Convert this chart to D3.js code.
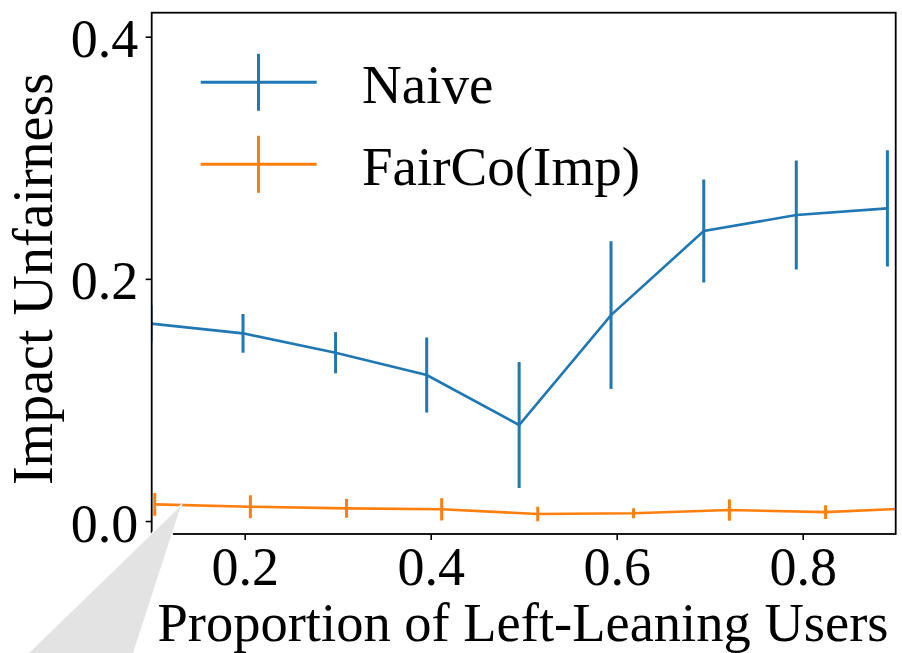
<!DOCTYPE html>
<html><head><meta charset="utf-8">
<script src="https://cdn.jsdelivr.net/npm/d3@7"></script>
<style>body{margin:0;background:#fff}svg{display:block}</style>
</head><body>
<svg id="chart" width="902" height="653"></svg>
<script>
// ---- data ----
const naiveX   = [0.0992, 0.1982, 0.2977, 0.3957, 0.4951, 0.5939, 0.6936, 0.7931, 0.8911];
const naiveY   = [0.163, 0.155, 0.139, 0.1206, 0.0793, 0.1701, 0.2395, 0.2527, 0.2582];
const naiveErr = [0.015, 0.016, 0.017, 0.031, 0.052, 0.061, 0.0425, 0.045, 0.048];
const fairX    = [0.1033, 0.2061, 0.3095, 0.4118, 0.5151, 0.6181, 0.7212, 0.8246, 0.9277];
const fairY    = [0.0138, 0.0118, 0.0105, 0.0097, 0.0058, 0.0064, 0.0091, 0.0074, 0.0108];
const fairErr  = [0.0094, 0.0095, 0.0078, 0.0092, 0.006, 0.0041, 0.0088, 0.0057, 0.006];
const xTicks = [0.2, 0.4, 0.6, 0.8];
const yTicks = [0.0, 0.2, 0.4];
const seriesNames = ["Naive", "FairCo(Imp)"];
const colors = ["#1f77b4", "#ff7f0e"];

const svg = d3.select("#chart");
const L = 151.7, R = 895.7, T = 12.7, B = 534;
const x = d3.scaleLinear().domain([0.1, 0.9]).range([L, R]);
const y = d3.scaleLinear().domain([-0.0107, 0.4198]).range([B, T]);
const font = "'Liberation Serif', 'Times New Roman', serif";

svg.append("defs").append("clipPath").attr("id", "clip")
  .append("rect").attr("x", L).attr("y", T).attr("width", R - L).attr("height", B - T);

const plot = svg.append("g").attr("clip-path", "url(#clip)");
const series = [
  {xs: naiveX, ys: naiveY, es: naiveErr, c: colors[0]},
  {xs: fairX, ys: fairY, es: fairErr, c: colors[1]}
];
series.forEach(s => {
  const pts = s.xs.map((v, i) => [v, s.ys[i], s.es[i]]);
  plot.append("path").datum(pts)
    .attr("fill", "none").attr("stroke", s.c).attr("stroke-width", 2.6)
    .attr("d", d3.line().x(d => x(d[0])).y(d => y(d[1])));
  plot.selectAll(null).data(pts).enter().append("line")
    .attr("x1", d => x(d[0])).attr("x2", d => x(d[0]))
    .attr("y1", d => y(d[1] - d[2])).attr("y2", d => y(d[1] + d[2]))
    .attr("stroke", s.c).attr("stroke-width", 3);
});

// axes
const xAxis = svg.append("g").attr("transform", `translate(0,${B})`)
  .call(d3.axisBottom(x).tickValues(xTicks).tickSize(6).tickFormat(d3.format(".1f")));
xAxis.select(".domain").remove();
xAxis.selectAll(".tick line").attr("stroke", "#000").attr("stroke-width", 1.6);
xAxis.selectAll(".tick text").attr("y", 51).attr("dy", 0)
  .attr("font-family", font).attr("font-size", 54).attr("fill", "#000");

const yAxis = svg.append("g").attr("transform", `translate(${L},0)`)
  .call(d3.axisLeft(y).tickValues(yTicks).tickSize(6).tickFormat(d3.format(".1f")));
yAxis.select(".domain").remove();
yAxis.selectAll(".tick line").attr("stroke", "#000").attr("stroke-width", 1.6);
yAxis.selectAll(".tick text").attr("x", -13.5).attr("dy", 20)
  .attr("font-family", font).attr("font-size", 54).attr("fill", "#000");

// spines
svg.append("rect").attr("x", L).attr("y", T).attr("width", R - L).attr("height", B - T)
  .attr("fill", "none").attr("stroke", "#000").attr("stroke-width", 1.8);

// axis labels
svg.append("text").attr("x", 523).attr("y", 640.5)
  .attr("text-anchor", "middle").attr("font-family", font).attr("font-size", 54.5)
  .text("Proportion of Left-Leaning Users");
svg.append("text").attr("transform", "translate(52,279) rotate(-90)")
  .attr("text-anchor", "middle").attr("font-family", font).attr("font-size", 56)
  .text("Impact Unfairness");

// legend
const leg = svg.append("g");
const legY = [82.3, 164.3];
seriesNames.forEach((name, i) => {
  leg.append("line").attr("x1", 200.7).attr("x2", 316.7).attr("y1", legY[i]).attr("y2", legY[i])
    .attr("stroke", colors[i]).attr("stroke-width", 3);
  leg.append("line").attr("x1", 258.5).attr("x2", 258.5).attr("y1", legY[i] - 28.5).attr("y2", legY[i] + 28.5)
    .attr("stroke", colors[i]).attr("stroke-width", 3);
  leg.append("text").attr("x", 362).attr("y", legY[i] + 20.2)
    .attr("font-family", font).attr("font-size", 55).attr("fill", "#000").text(name);
});

// zoom connector (grey wedge)
svg.append("polygon")
  .attr("points", "182,504 20,661 131,661")
  .attr("fill", "#e3e3e3").attr("stroke", "#fff").attr("stroke-width", 1.2);
</script>
</body></html>
